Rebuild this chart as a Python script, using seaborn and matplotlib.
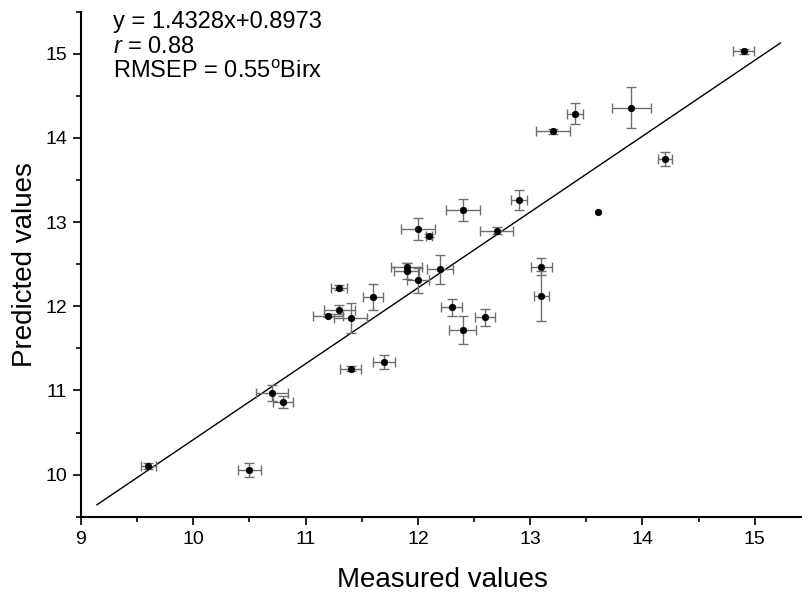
import numpy as np
import pandas as pd
import matplotlib
matplotlib.use("Agg")
import matplotlib.pyplot as plt
import seaborn as sns
from matplotlib.ticker import MultipleLocator

measured = [9.60, 10.50, 10.70, 10.80, 11.40, 11.70, 11.30, 11.60, 11.30, 11.20,
            11.40, 11.90, 11.90, 12.00, 12.20, 12.30, 12.40, 12.00, 12.10, 12.40,
            12.90, 12.70, 13.60, 13.10, 13.10, 12.60, 13.20, 13.40, 13.90, 14.20,
            14.90]
predicted = [10.10, 10.05, 10.97, 10.86, 11.26, 11.34, 12.22, 12.11, 11.96, 11.89,
             11.86, 12.42, 12.47, 12.31, 12.44, 11.99, 11.72, 12.92, 12.84, 13.14,
             13.26, 12.90, 13.12, 12.47, 12.12, 11.87, 14.08, 14.29, 14.36, 13.75,
             15.03]
x_err = [0.067, 0.10, 0.145, 0.09, 0.09, 0.10, 0.07, 0.09, 0.14, 0.13,
         0.15, 0.11, 0.14, 0.10, 0.115, 0.09, 0.12, 0.15, 0.03, 0.15,
         0.07, 0.15, 0.0, 0.09, 0.07, 0.09, 0.15, 0.07, 0.175, 0.06,
         0.09]
y_err = [0.035, 0.083, 0.095, 0.07, 0.025, 0.085, 0.03, 0.16, 0.05, 0.02,
         0.18, 0.10, 0.05, 0.15, 0.17, 0.10, 0.17, 0.13, 0.02, 0.13,
         0.12, 0.04, 0.0, 0.10, 0.30, 0.10, 0.03, 0.13, 0.24, 0.085,
         0.03]

# Droite de régression (extrémités)
fit_x = [9.14, 15.23]
fit_y = [9.64, 15.13]

equation = "y = 1.4328x+0.8973"
r_text = "$r$ = 0.88"
rmsep_text = "RMSEP = 0.55$^{\\rm o}$Birx"

sns.set_style("ticks")
plt.rcParams['font.family'] = ['Liberation Sans', 'DejaVu Sans']
plt.rcParams['mathtext.fontset'] = 'custom'
plt.rcParams['mathtext.rm'] = 'Liberation Sans'
plt.rcParams['mathtext.it'] = 'Liberation Sans:italic'
for cle in ['text.color', 'axes.labelcolor', 'xtick.color', 'ytick.color']:
    plt.rcParams[cle] = 'black'

df = pd.DataFrame({'measured': measured, 'predicted': predicted,
                   'xerr': x_err, 'yerr': y_err})
avec_err = df[(df['xerr'] > 0) | (df['yerr'] > 0)]

fig = plt.figure(figsize=(8.03, 5.95), dpi=100)
ax = fig.add_axes([81 / 803, 1 - 516.7 / 595, 722 / 803, 505 / 595])

# Barres d'erreur grises
ax.errorbar(avec_err['measured'], avec_err['predicted'],
            xerr=avec_err['xerr'], yerr=avec_err['yerr'],
            fmt='none', ecolor='#6e6e6e', elinewidth=1.0, capsize=3.3,
            capthick=1.0, zorder=2)
sns.scatterplot(data=df, x='measured', y='predicted', ax=ax, color='black',
                s=22, edgecolor='black', linewidth=0.5, zorder=3)
sns.lineplot(x=fit_x, y=fit_y, ax=ax, color='black', linewidth=1.0, zorder=1)

ax.set_xlim(9, 9 + 722 / 112.3)
ax.set_ylim(9.5, 15.5)
ax.xaxis.set_major_locator(MultipleLocator(1))
ax.xaxis.set_minor_locator(MultipleLocator(0.5))
ax.yaxis.set_major_locator(MultipleLocator(1))
ax.yaxis.set_minor_locator(MultipleLocator(0.5))
ax.tick_params(which='major', direction='out', length=6, width=1.2,
               labelsize=14, pad=4, color='black')
ax.tick_params(which='minor', direction='out', length=3.5, width=1.2, color='black')
sns.despine(ax=ax)
for side in ['left', 'bottom']:
    ax.spines[side].set_linewidth(1.5)
    ax.spines[side].set_color('black')

ax.set_xlabel('Measured values', fontsize=20, labelpad=14)
ax.set_ylabel('Predicted values', fontsize=20, labelpad=5)

fig.text(113 / 803, 1 - 21.7 / 595, equation, fontsize=17, va='center')
fig.text(113 / 803, 1 - 46.7 / 595, r_text, fontsize=17, va='center')
fig.text(113 / 803, 1 - 71.7 / 595, rmsep_text, fontsize=17, va='center')

fig.savefig('out.png', dpi=100)
